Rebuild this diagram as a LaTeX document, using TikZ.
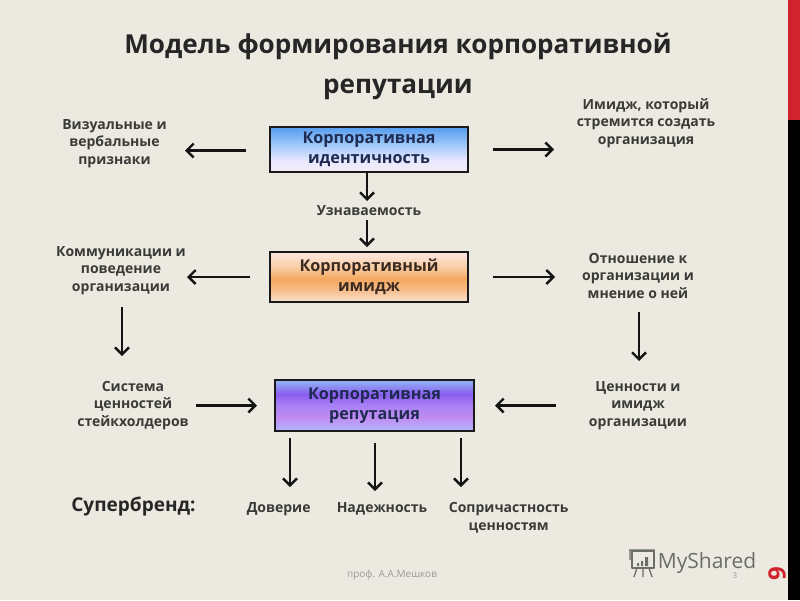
\documentclass[tikz,border=0pt]{standalone}
\usepackage{fontspec}
\setmainfont{Open Sans}
\usetikzlibrary{arrows.meta}
\definecolor{bgc}{HTML}{ECEAE0}
\definecolor{txtc}{HTML}{3A3A38}
\definecolor{logoc}{HTML}{6B6F68}
\definecolor{redc}{HTML}{D0232F}
\definecolor{navy}{HTML}{1E2A50}
\definecolor{brownc}{HTML}{3A2A20}
\definecolor{ba}{HTML}{F4ECF4}\definecolor{bb}{HTML}{E8E8FF}\definecolor{bc}{HTML}{A0C8F8}\definecolor{bd}{HTML}{569CEE}
\definecolor{oa}{HTML}{F8E2D0}\definecolor{ob}{HTML}{F8BE8C}\definecolor{oc}{HTML}{F5A860}\definecolor{od}{HTML}{FACDA5}\definecolor{oe}{HTML}{FBE8E2}
\definecolor{pa}{HTML}{B0B8FF}\definecolor{pb}{HTML}{C08CF0}\definecolor{pc}{HTML}{AA82F5}\definecolor{pd}{HTML}{8A5CF0}\definecolor{pe}{HTML}{90B8F5}
% a node is mapped onto the 25bp--75bp part of a shading
\pgfdeclareverticalshading{shblue}{100bp}{color(0bp)=(ba); color(25bp)=(ba); color(38bp)=(bb); color(55bp)=(bc); color(75bp)=(bd); color(100bp)=(bd)}
\pgfdeclareverticalshading{shorange}{100bp}{color(0bp)=(oa); color(25bp)=(oa); color(37bp)=(ob); color(48bp)=(oc); color(60bp)=(od); color(75bp)=(oe); color(100bp)=(oe)}
\pgfdeclareverticalshading{shpurple}{100bp}{color(0bp)=(pa); color(25bp)=(pa); color(38bp)=(pb); color(50bp)=(pc); color(61bp)=(pd); color(75bp)=(pe); color(100bp)=(pe)}
\tikzset{
 mainbox/.style={draw=black!90,line width=2.4pt,outer sep=0pt,minimum width=198pt,inner sep=0pt,align=center,font=\fontsize{16.2}{20}\selectfont\bfseries},
 lab/.style={align=center,inner sep=0pt,outer sep=0pt,font=\fontsize{14}{17.5}\selectfont\bfseries,text=txtc},
 arr/.style={-{Straight Barb[length=7pt,width=14pt,line width=2.4pt]},line width=2.5pt,black!92},
 small/.style={inner sep=0pt,text=gray!80!white},
}
\begin{document}
\begin{tikzpicture}[x=1pt,y=-1pt]
\useasboundingbox (0,0) rectangle (800,600);
\fill[bgc] (0,0) rectangle (800,600);
\fill[black] (788,0) rectangle (800,600);
\fill[redc] (788,0) rectangle (800,120);
\node[inner sep=0pt,align=center,font=\fontsize{26.1}{40}\selectfont\bfseries,text=black!85] (title) at (398,66) {Модель формирования корпоративной\\репутации};
\node[mainbox,minimum height=45pt,shading=shblue,text=navy] (b1) at (369,149.5) {Корпоративная\\идентичность};
\node[mainbox,minimum height=50pt,shading=shorange,text=brownc] (b2) at (369,277) {Корпоративный\\имидж};
\node[mainbox,minimum width=199pt,minimum height=51pt,shading=shpurple,text=navy] (b3) at (374.5,405.5) {Корпоративная\\репутация};
\node[lab,minimum width=106pt,minimum height=54pt] (vis) at (114.5,143.5) {Визуальные и\\вербальные\\признаки};
\node[lab,minimum width=140pt,minimum height=54pt] (img) at (646,123) {Имидж, который\\стремится создать\\организация};
\node[lab,minimum height=18pt] (uzn) at (369,211) {Узнаваемость};
\node[lab,minimum width=132pt,minimum height=54pt] (kom) at (121,270.5) {Коммуникации и\\поведение\\организации};
\node[lab,minimum width=116pt,minimum height=54pt] (otn) at (638,275.5) {Отношение к\\организации и\\мнение о ней};
\node[lab,minimum width=113pt,minimum height=54pt] (sis) at (133,405.5) {Система\\ценностей\\стейкхолдеров};
\node[lab,minimum width=96pt,minimum height=54pt] (cen) at (638,405.5) {Ценности и\\имидж\\организации};
\node[inner sep=0pt,font=\fontsize{19}{22}\selectfont\bfseries,text=black!85] (sup) at (133.5,506.5) {Супербренд:};
\node[lab,minimum height=18pt] (dov) at (278.7,509) {Доверие};
\node[lab,minimum height=18pt] (nad) at (382,509) {Надежность};
\node[lab,minimum height=36pt] (sop) at (508.7,518) {Сопричастность\\ценностям};
\node[small,font=\fontsize{10}{12}\selectfont] (prof) at (392,575) {проф. А.А.Мешков};
\node[small,font=\fontsize{8}{10}\selectfont] (num) at (735,576) {3};
\node[inner sep=0pt,font=\fontsize{21}{24}\selectfont,text=logoc] (ms) at (707,563) {MyShared};
\node[inner sep=0pt,rotate=90,font=\fontsize{24}{26}\selectfont\bfseries,text=redc] (pg) at (777,574) {9};
% logo
\draw[logoc,line width=1.3pt,line join=round] (632,551) rectangle (654,568);
\draw[logoc,line width=1.3pt] (629,550) -- (655,550) (630,550) -- (630,560) (637,568) -- (634,577) (643,568) -- (643,577) (649,568) -- (652,577);
\fill[logoc] (637,563) rectangle (639,566) (641,561) rectangle (643,566) (645,557) rectangle (648,566);
% connectors
\draw[arr,shorten <=24pt,shorten >=17.5pt] ([yshift=-1pt]b1.west) -- ([yshift=-1pt]b1.west -| vis.east);
\draw[arr,shorten <=25pt,shorten >=22pt] (b1.east) -- (b1.east -| img.west);
\draw[arr,shorten >=1pt] ([xshift=-2pt]b1.south) -- ([xshift=-2pt]uzn.north);
\draw[arr,shorten >=5pt] ([xshift=-2pt]uzn.south) -- ([xshift=-2pt]b2.north);
\draw[arr,shorten <=20pt] (b2.west) -- (b2.west -| kom.east);
\draw[arr,shorten <=25pt,shorten >=25pt] (b2.east) -- (b2.east -| otn.west);
\draw[arr,shorten <=9.5pt,shorten >=22.5pt] ([xshift=1pt]kom.south) -- ([xshift=1pt]kom.south |- sis.north);
\draw[arr,shorten <=9.5pt,shorten >=17.5pt] ([xshift=1pt]otn.south) -- ([xshift=1pt]otn.south |- cen.north);
\draw[arr,shorten <=6.5pt,shorten >=18pt] (sis.east |- b3.west) -- (b3.west);
\draw[arr,shorten <=33pt,shorten >=21pt] (cen.west |- b3.east) -- (b3.east);
\coordinate (dxa) at ([xshift=11.3pt]dov.north);
\coordinate (dxb) at ([xshift=-7pt]nad.north);
\coordinate (dxc) at ([xshift=-47.7pt]sop.north);
\draw[arr,shorten <=7pt,shorten >=13pt] (b3.south -| dxa) -- (dxa);
\draw[arr,shorten <=12pt,shorten >=9pt] (b3.south -| dxb) -- (dxb);
\draw[arr,shorten <=7pt,shorten >=13pt] (b3.south -| dxc) -- (dxc);
\end{tikzpicture}
\end{document}
